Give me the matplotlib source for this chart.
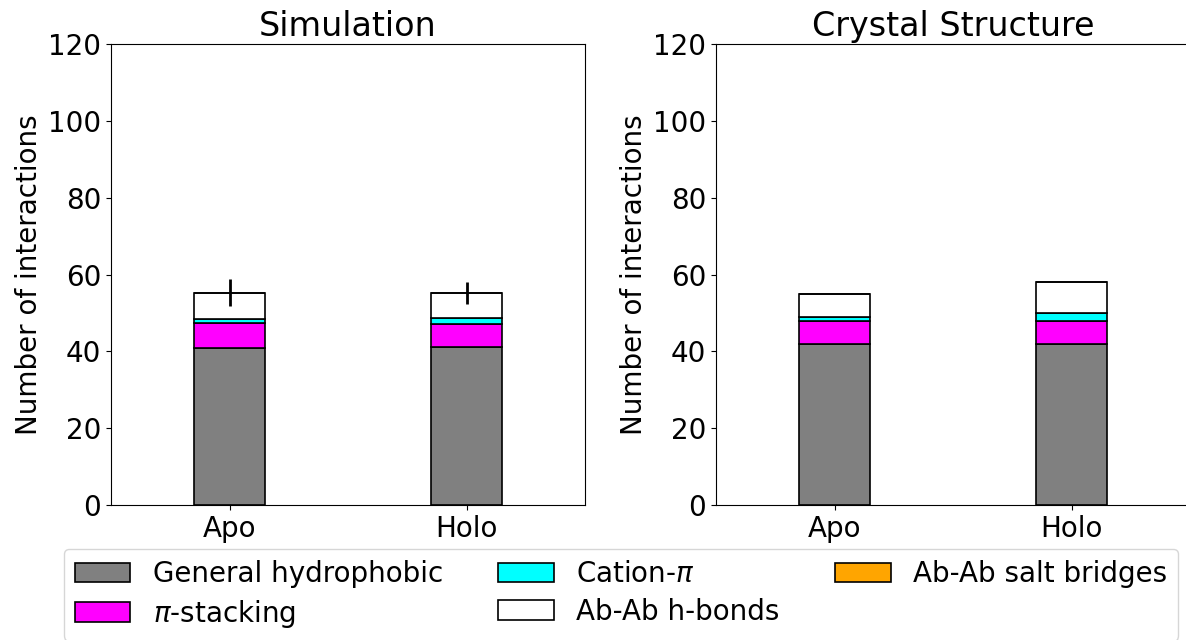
import numpy as np
import matplotlib
matplotlib.use("Agg")
import matplotlib.pyplot as plt

plt.rcParams["font.size"] = 20

states = ["Apo", "Holo"]
labels = ["General hydrophobic", r"$\pi$-stacking", r"Cation-$\pi$",
          "Ab-Ab h-bonds", "Ab-Ab salt bridges"]
colors = ["grey", "magenta", "cyan", "white", "orange"]

# Simulation averages per interaction type (Apo, Holo)
sim_hydrophobic = [40.9, 41.2]
sim_pi_stacking = [6.4, 5.8]
sim_cation_pi = [1.0, 1.8]
sim_hbonds = [7.0, 6.4]
sim_salt_bridges = [0.0, 0.0]
sim_total_err = [3.4, 2.9]

# Crystal structure counts (Apo, Holo)
xtal_hydrophobic = [42, 42]
xtal_pi_stacking = [6, 6]
xtal_cation_pi = [1, 2]
xtal_hbonds = [6, 8]
xtal_salt_bridges = [0, 0]

fig = plt.figure(figsize=(11.86, 6.4), dpi=100)
W, H = 1186, 640
ax1 = fig.add_axes([111 / W, (H - 505) / H, 474 / W, 461 / H])
ax2 = fig.add_axes([716 / W, (H - 505) / H, 474 / W, 461 / H])

x = np.arange(len(states))
width = 0.3


def stacked(ax, layers, err=None):
    bottom = np.zeros(len(states))
    handles = []
    for vals, col, lab in zip(layers, colors, labels):
        vals = np.asarray(vals, dtype=float)
        h = ax.bar(x, vals, width, bottom=bottom, color=col,
                   edgecolor="black", linewidth=1.2, label=lab)
        handles.append(h)
        bottom = bottom + vals
    if err is not None:
        ax.errorbar(x, bottom, yerr=err, fmt="none", ecolor="black",
                    elinewidth=2, capsize=0)
    ax.set_xticks(x)
    ax.set_xticklabels(states)
    ax.set_xlim(-0.5, 1.5)
    ax.set_ylim(0, 120)
    ax.set_yticks(np.arange(0, 121, 20))
    ax.set_ylabel("Number of interactions")
    return handles


handles = stacked(ax1, [sim_hydrophobic, sim_pi_stacking, sim_cation_pi,
                        sim_hbonds, sim_salt_bridges], sim_total_err)
ax1.set_title("Simulation")
stacked(ax2, [xtal_hydrophobic, xtal_pi_stacking, xtal_cation_pi,
              xtal_hbonds, xtal_salt_bridges])
ax2.set_title("Crystal Structure")

fig.legend(handles=handles, labels=labels, ncol=3, loc="upper center",
           bbox_to_anchor=(621 / W, (H - 535) / H), frameon=True,
           labelspacing=0.35)

fig.savefig("out.png", dpi=100)
